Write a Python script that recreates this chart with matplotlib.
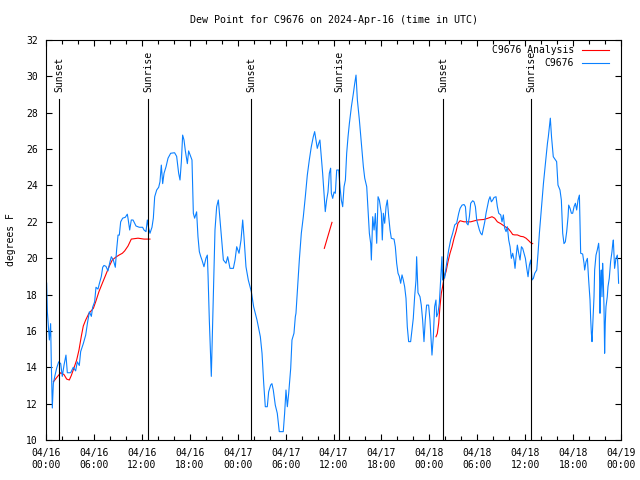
import numpy as np
import matplotlib
matplotlib.use('Agg')
import matplotlib.pyplot as plt
import matplotlib.dates as mdates

plt.rcParams['font.family'] = 'DejaVu Sans Mono'
plt.rcParams['font.size'] = 7

otsikko = 'Dew Point for C9676 on 2024-Apr-16 (time in UTC)'
ynimi = 'degrees F'
t0 = np.datetime64('2024-04-16T00:00')

# havainnot: tunteja t0:sta, kastepiste (F)
hav_h = [0.08, 0.17, 0.42, 0.58, 0.67, 0.79, 0.92, 1.09, 1.34, 1.59, 1.84, 2.04, 2.25, 2.5, 2.67,
         3.09, 3.42, 3.71, 3.92, 4.17, 4.34, 4.67, 4.97, 5.18, 5.43, 5.68, 5.84, 6.09, 6.26, 6.51,
         6.68, 6.93, 7.1, 7.26, 7.51, 7.76, 8.01, 8.18, 8.43, 8.68, 8.85, 9.02, 9.18, 9.35, 9.6,
         9.93, 10.18, 10.27, 10.48, 10.68, 10.9, 11.27, 11.68, 12.1, 12.27, 12.52, 12.69, 12.86,
         13.02, 13.27, 13.44, 13.61, 13.86, 14.11, 14.27, 14.44, 14.61, 14.78, 15.03, 15.28, 15.61,
         16.1, 16.36, 16.61, 16.78, 16.95, 17.11, 17.28, 17.45, 17.7, 17.86, 18.11, 18.28, 18.45,
         18.61, 18.86, 19.03, 19.2, 19.37, 19.53, 19.78, 20.03, 20.2, 20.29, 20.45, 20.62, 20.7,
         20.95, 21.16, 21.37, 21.58, 21.79, 22.0, 22.21, 22.54, 22.75, 23.04, 23.46, 23.67, 23.88,
         24.17, 24.42, 24.63, 24.79, 25.04, 25.33, 25.71, 26.0, 26.42, 26.84, 27.05, 27.26, 27.46,
         27.71, 27.88, 28.13, 28.29, 28.46, 28.71, 28.96, 29.21, 29.71, 29.88, 30.05, 30.22, 30.39,
         30.64, 30.8, 31.05, 31.22, 31.3, 31.51, 31.72, 31.97, 32.22, 32.47, 32.72, 32.97, 33.22,
         33.47, 33.64, 33.8, 33.97, 34.14, 34.3, 34.47, 34.64, 34.81, 34.97, 35.14, 35.31, 35.48,
         35.64, 35.73, 35.9, 36.07, 36.23, 36.4, 36.65, 36.81, 36.98, 37.15, 37.32, 37.49, 37.65,
         37.82, 37.99, 38.24, 38.49, 38.66, 38.82, 38.99, 39.24, 39.49, 39.74, 39.91, 40.16, 40.33,
         40.49, 40.66, 40.74, 40.91, 41.08, 41.24, 41.41, 41.58, 41.74, 41.99, 42.11, 42.24, 42.41,
         42.58, 42.74, 42.91, 43.08, 43.24, 43.58, 43.74, 43.91, 44.08, 44.24, 44.41, 44.58, 44.74,
         44.91, 45.08, 45.24, 45.41, 45.66, 45.83, 45.99, 46.16, 46.33, 46.41, 46.58, 46.83, 46.99,
         47.16, 47.33, 47.49, 47.66, 47.91, 48.08, 48.25, 48.33, 48.5, 48.66, 48.83, 48.91, 49.08,
         49.25, 49.41, 49.58, 49.66, 49.75, 49.91, 50.17, 50.42, 50.67, 50.92, 51.18, 51.42, 51.68,
         51.85, 52.1, 52.35, 52.52, 52.68, 52.85, 53.02, 53.18, 53.43, 53.6, 53.77, 53.93, 54.1,
         54.27, 54.43, 54.6, 54.77, 54.94, 55.1, 55.27, 55.44, 55.6, 55.77, 55.94, 56.1, 56.35,
         56.52, 56.69, 56.94, 57.1, 57.27, 57.44, 57.61, 57.77, 57.94, 58.11, 58.27, 58.44, 58.61,
         58.73, 58.86, 59.02, 59.19, 59.36, 59.53, 59.69, 59.86, 60.03, 60.2, 60.36, 60.53, 60.7,
         60.86, 61.03, 61.2, 61.45, 61.61, 61.78, 61.95, 62.12, 62.29, 62.45, 62.62, 62.79, 62.9,
         63.15, 63.3, 63.52, 63.94, 64.11, 64.36, 64.53, 64.61, 64.7, 64.86, 65.03, 65.2, 65.37,
         65.45, 65.62, 65.79, 65.95, 66.12, 66.29, 66.45, 66.62, 66.79, 66.87, 66.95, 67.2, 67.37,
         67.45, 67.62, 67.79, 67.95, 68.12, 68.2, 68.29, 68.37, 68.45, 68.62, 68.7, 68.87, 69.03,
         69.2, 69.28, 69.37, 69.45, 69.53, 69.62, 69.7, 69.78, 69.87, 69.95, 70.03, 70.12, 70.28,
         70.37, 70.53, 70.7, 70.87, 70.95, 71.04, 71.12, 71.2, 71.29, 71.37, 71.54, 71.62, 71.7]
hav_t = [18.63, 17.05, 15.5, 16.4, 14.1, 11.76, 13.1, 13.48, 13.96, 14.3, 14.2, 13.5, 14.1, 14.67, 13.7,
         13.7, 14.0, 13.8, 14.3, 14.1, 14.86, 15.3, 15.77, 16.4, 17.05, 16.8, 17.3, 17.6, 18.4, 18.3,
         18.6, 19.0, 19.5, 19.6, 19.55, 19.3, 19.8, 20.08, 19.9, 19.5, 20.5, 21.27, 21.27, 22.0, 22.2,
         22.25, 22.42, 22.19, 21.55, 22.1, 22.1, 21.77, 21.7, 21.7, 21.55, 21.46, 22.1, 21.64,
         21.37, 21.7, 22.2, 23.38, 23.75, 23.9, 24.2, 25.12, 24.1, 24.67, 25.03, 25.5, 25.77,
         25.8, 25.6, 24.67, 24.3, 25.31, 26.77, 26.5, 25.9, 25.2, 25.9, 25.6, 25.4, 22.47,
         22.2, 22.55, 21.18, 20.36, 20.1, 19.9, 19.53, 20.0, 20.17, 19.07, 16.6, 14.4, 13.5,
         17.88, 21.55, 22.83, 23.2, 22.1, 21.0, 19.9, 19.72, 20.08, 19.44, 19.44, 19.9, 20.63,
         20.27, 21.0, 22.1, 21.18, 19.53, 18.8, 18.16, 17.33, 16.6, 15.68, 14.77, 13.12, 11.83,
         11.83, 12.65, 13.02, 13.1, 12.75, 11.92, 11.47, 10.46, 10.46, 11.47, 12.75, 11.83, 12.57,
         13.94, 15.5, 15.87, 16.78, 16.97, 18.43, 19.9, 21.37, 22.28, 23.38, 24.57, 25.4, 26.13,
         26.68, 26.96, 26.5, 26.04, 26.3, 26.5, 25.58, 24.67, 23.57, 22.56, 23.2, 23.64, 24.67,
         24.95, 23.57, 23.29, 23.64, 23.57, 24.85, 24.85, 23.93, 23.2, 22.83, 23.93, 24.3, 25.77,
         26.68, 27.42, 28.33, 29.07, 29.62, 30.07, 28.7, 27.6, 26.32, 25.03, 24.4, 23.93, 22.65,
         21.37, 20.8, 19.9, 22.28, 21.55, 22.46, 20.82, 23.38, 23.2, 22.47, 21.0, 22.47, 21.92,
         22.83, 23.2, 22.3, 21.55, 21.09, 21.05, 20.63, 19.72, 19.17, 19.0, 18.62, 19.08, 18.8,
         18.43, 17.79, 16.23, 15.41, 15.41, 16.05, 16.69, 17.88, 18.8, 20.08, 18.1, 17.88, 17.42,
         16.6, 15.41, 16.6, 17.42, 17.42, 16.6, 15.22, 14.67, 15.68, 17.33, 17.7, 16.78, 16.97,
         17.51, 18.8, 20.08, 18.8, 19.35, 18.9, 19.72, 20.45, 21.0, 21.37, 21.83, 21.92, 22.47,
         22.74, 22.92, 22.95, 22.83, 21.92, 21.83, 22.3, 23.02, 23.16, 23.1, 22.83, 22.1, 21.83,
         21.55, 21.37, 21.28, 21.64, 22.0, 22.47, 22.83, 23.2, 23.38, 23.1, 23.2, 23.34, 23.38,
         22.83, 22.47, 22.38, 22.0, 22.38, 21.64, 21.46, 21.73, 21.0, 20.63, 19.99, 20.27, 19.9,
         19.44, 20.08, 20.72, 20.27, 19.9, 20.63, 20.54, 20.27, 19.99, 19.44, 18.98, 19.62, 19.9,
         18.8, 18.89, 19.17, 19.35, 20.27, 21.37, 22.28, 23.2, 24.12, 24.85, 25.58, 26.32, 26.68,
         27.7, 26.68, 25.58, 25.31, 24.02, 23.75, 23.2, 22.28, 21.37, 20.8, 20.9, 21.46, 22.28,
         22.92, 22.74, 22.47, 22.47, 22.83, 23.02, 22.65, 23.2, 23.47, 21.92, 20.27, 20.23, 19.72,
         19.35, 19.8, 19.99, 18.8, 17.7, 16.69, 15.87, 15.41, 16.23, 17.88, 19.35, 20.17, 20.45,
         20.82, 20.27, 16.97, 18.8, 19.35, 17.88, 19.72, 18.8, 17.33, 14.77, 16.42, 17.33, 17.88,
         18.43, 18.89, 19.81, 20.36, 20.72, 21.0, 20.27, 19.44, 19.72, 19.99, 20.17, 19.53, 18.62]

# analyysi, nan = katko
nan = float('nan')
an_h = [0.92, 1.42, 1.84, 2.25, 2.59, 2.92, 3.17, 3.5, 3.84, 4.13, 4.42, 4.67, 4.97, 5.38, 5.93,
        6.22, 6.63, 7.05, 7.47, 7.89, 8.3, 8.72, 9.14, 9.56, 9.85, 10.27, 10.68, 11.52, 12.27, 13.02,
        13.1, 34.85, 35.81, 35.9,
        48.83, 49.0, 49.17, 49.33, 49.5, 49.66, 49.83, 50.09, 50.34, 50.59, 50.84, 51.09, 51.34,
        51.59, 51.85, 52.35, 53.18, 54.02, 54.85, 55.35, 55.85, 56.18, 56.52, 56.94, 57.27, 57.61,
        57.86, 58.19, 58.44, 58.69, 59.02, 59.44, 59.77, 60.1, 60.45, 60.69, 60.94]
an_t = [13.2, 13.48, 13.7, 13.6, 13.35, 13.3, 13.55, 13.96, 14.4, 14.95, 15.7, 16.27, 16.6, 16.97, 17.24,
        17.6, 18.16, 18.62, 19.07, 19.53, 19.9, 20.05, 20.17, 20.27, 20.4, 20.67, 21.05, 21.1, 21.05, 21.05,
        nan, 20.54, 21.97, nan,
        15.68, 15.86, 16.42, 17.33, 18.07, 18.43, 18.9, 19.26, 19.81, 20.27, 20.63, 21.09, 21.46,
        21.92, 22.06, 22.0, 22.0, 22.1, 22.13, 22.2, 22.28, 22.2, 22.0, 21.9, 21.8, 21.7,
        21.64, 21.46, 21.3, 21.28, 21.28, 21.2, 21.18, 21.1, 20.96, 20.85, 20.8]

# auringonlaskut ja -nousut
aurinko_h = [1.665, 12.81, 25.73, 36.73, 49.75, 60.77]
aurinko_nimet = ['Sunset', 'Sunrise', 'Sunset', 'Sunrise', 'Sunset', 'Sunrise']


def ajaksi(tunnit):
    return t0 + (np.array(tunnit) * 3600).astype('timedelta64[s]')


fig = plt.figure(figsize=(6.4, 4.8), dpi=100)
ax = fig.add_axes([46/640, 40/480, 575/640, 400/480])

ax.plot(ajaksi(an_h), an_t, color='#ff0000', lw=0.8, label='C9676 Analysis')
ax.plot(ajaksi(hav_h), hav_t, color='#0a80ff', lw=0.8, label='C9676')

for h, nimi in zip(aurinko_h, aurinko_nimet):
    x = ajaksi(h)
    ax.axvline(x, ymin=0, ymax=0.8525, color='black', lw=0.8)
    ax.text(x, 0.87, nimi, rotation=90, ha='center', va='bottom',
            transform=ax.get_xaxis_transform())

ax.set_xlim(t0, ajaksi(72))
ax.set_ylim(10, 32)
ax.set_yticks(np.arange(10, 33, 2))
ax.xaxis.set_major_locator(mdates.HourLocator(byhour=[0, 6, 12, 18]))
ax.xaxis.set_minor_locator(mdates.HourLocator(byhour=range(0, 24, 2)))
ax.xaxis.set_major_formatter(mdates.DateFormatter('%m/%d\n%H:%M'))
ax.tick_params(which='both', direction='in', top=True, right=True, width=0.8)
ax.tick_params(which='major', length=4.5)
ax.tick_params(which='minor', length=3)
ax.tick_params(axis='x', which='major', pad=6)
ax.tick_params(axis='y', pad=6)
for s in ax.spines.values():
    s.set_linewidth(0.8)

# otsikko keskitetään kuva-alueen ylle kuten gnuplotissa
fig.text(333.5/640, 1 - 20/480, otsikko, ha='center', va='center', fontsize=7.2)
fig.text(11/640, 0.5, ynimi, rotation=90, ha='center', va='center')

ax.legend(loc='upper right', bbox_to_anchor=(1 - 12/575, 1 - 5.5/400), frameon=False,
          markerfirst=False, handlelength=2.8, handletextpad=0.8, labelspacing=0.3,
          borderaxespad=0, borderpad=0)

plt.savefig('out.png', dpi=100)
